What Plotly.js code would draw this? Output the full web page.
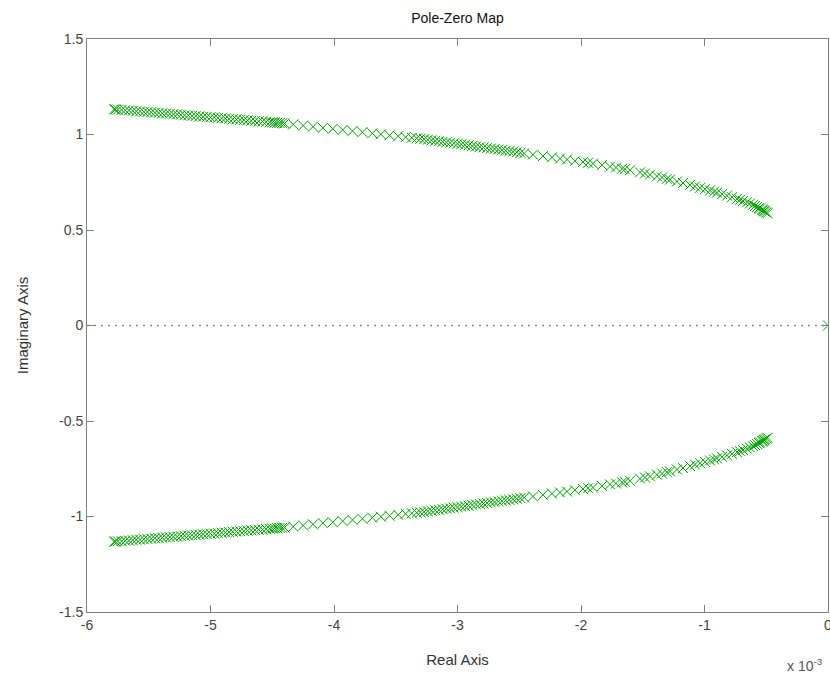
<!DOCTYPE html>
<html>
<head>
<meta charset="utf-8">
<script src="https://cdn.plot.ly/plotly-3.0.1.min.js"></script>
<style>html,body{margin:0;padding:0;background:#fff;overflow:hidden;}#chart{width:830px;height:677px;}</style>
</head>
<body>
<div id="chart"></div>
<script>
// Real parts in units of 1e-3, imaginary parts
const upperReal = [
 -5.78,-5.77,-5.75,-5.72,-5.69,-5.66,-5.63,-5.60,-5.57,-5.54,-5.51,-5.48,-5.45,-5.42,-5.39,-5.36,-5.33,-5.30,-5.27,-5.24,
 -5.21,-5.18,-5.15,-5.12,-5.09,-5.06,-5.03,-5.00,-4.97,-4.94,-4.91,-4.88,-4.85,-4.82,-4.79,-4.76,-4.73,-4.70,-4.67,-4.64,
 -4.61,-4.58,-4.55,-4.52,-4.50,-4.48,-4.46,-4.44,-4.42,-4.40,
 -4.33,-4.25,-4.17,-4.09,-4.01,-3.93,-3.85,-3.77,-3.69,-3.62,-3.55,-3.48,-3.42,-3.37,-3.33,
 -3.30,-3.27,-3.24,-3.21,-3.18,-3.15,-3.12,-3.09,-3.06,-3.03,-3.00,-2.97,-2.94,-2.91,-2.88,-2.85,-2.82,-2.79,-2.76,-2.73,
 -2.70,-2.67,-2.64,-2.61,-2.58,-2.55,-2.52,-2.49,-2.46,
 -2.389,-2.308,-2.235,-2.170,-2.113,-2.049,-1.984,-1.943,-1.903,-1.830,-1.765,-1.717,-1.668,-1.644,-1.603,-1.522,-1.482,
 -1.441,-1.385,-1.344,-1.304,-1.279,-1.223,-1.174,-1.117,-1.077,-1.036,-0.996,-0.955,-0.923,-0.899,-0.858,-0.818,-0.777,
 -0.737,-0.713,-0.688,-0.656,-0.632,-0.607,-0.591,-0.575,-0.559,-0.551,-0.534,-0.526,-0.518,-0.510,-0.500,-0.490
];
const upperImag = [
 1.132,1.131,1.130,1.129,1.127,1.126,1.124,1.122,1.121,1.119,1.118,1.116,1.114,1.113,1.111,1.110,1.108,1.106,1.105,1.103,
 1.101,1.100,1.098,1.097,1.095,1.093,1.092,1.090,1.089,1.087,1.085,1.084,1.082,1.080,1.079,1.077,1.076,1.074,1.072,1.071,
 1.069,1.068,1.066,1.064,1.063,1.062,1.061,1.060,1.059,1.058,
 1.053,1.047,1.041,1.035,1.030,1.024,1.018,1.012,1.006,1.001,0.996,0.991,0.986,0.983,0.980,
 0.978,0.976,0.973,0.970,0.967,0.965,0.962,0.959,0.957,0.954,0.951,0.948,0.946,0.943,0.940,0.937,0.935,0.932,0.929,0.926,
 0.924,0.921,0.918,0.915,0.913,0.910,0.907,0.904,0.901,
 0.895,0.887,0.880,0.874,0.869,0.862,0.856,0.852,0.848,0.840,0.832,0.827,0.821,0.818,0.813,0.802,0.796,
 0.790,0.781,0.775,0.768,0.764,0.754,0.746,0.736,0.728,0.721,0.714,0.707,0.701,0.696,0.688,0.680,0.672,
 0.663,0.658,0.652,0.645,0.639,0.632,0.626,0.620,0.615,0.612,0.607,0.604,0.600,0.597,0.592,0.588
];
const lowerReal = upperReal.slice();
const lowerImag = [
 -1.132,-1.131,-1.130,-1.129,-1.127,-1.126,-1.124,-1.122,-1.121,-1.119,-1.118,-1.116,-1.114,-1.113,-1.111,-1.110,-1.108,-1.106,-1.105,-1.103,
 -1.101,-1.100,-1.098,-1.097,-1.095,-1.093,-1.092,-1.090,-1.089,-1.087,-1.085,-1.084,-1.082,-1.080,-1.079,-1.077,-1.076,-1.074,-1.072,-1.071,
 -1.069,-1.068,-1.066,-1.064,-1.063,-1.062,-1.061,-1.060,-1.059,-1.058,
 -1.053,-1.047,-1.041,-1.035,-1.030,-1.024,-1.018,-1.012,-1.006,-1.001,-0.996,-0.991,-0.986,-0.983,-0.980,
 -0.978,-0.976,-0.973,-0.970,-0.967,-0.965,-0.962,-0.959,-0.957,-0.954,-0.951,-0.948,-0.946,-0.943,-0.940,-0.937,-0.935,-0.932,-0.929,-0.926,
 -0.924,-0.921,-0.918,-0.915,-0.913,-0.910,-0.907,-0.904,-0.901,
 -0.895,-0.887,-0.880,-0.874,-0.869,-0.862,-0.856,-0.852,-0.848,-0.840,-0.832,-0.827,-0.821,-0.818,-0.813,-0.802,-0.796,
 -0.790,-0.781,-0.775,-0.768,-0.764,-0.754,-0.746,-0.736,-0.728,-0.721,-0.714,-0.707,-0.701,-0.696,-0.688,-0.680,-0.672,
 -0.663,-0.658,-0.652,-0.645,-0.639,-0.632,-0.626,-0.620,-0.615,-0.612,-0.607,-0.604,-0.600,-0.597,-0.592,-0.588
];
const originReal = [0];
const originImag = [0];

const xTickVals = [-6,-5,-4,-3,-2,-1,0];
const xTickText = ['-6','-5','-4','-3','-2','-1','0'];
const yTickVals = [-1.5,-1,-0.5,0,0.5,1,1.5];
const yTickText = ['-1.5','-1','-0.5','0','0.5','1','1.5'];

const green = 'rgb(0,160,0)';
const markerStyle = {symbol:'x-thin-open', size:10, color:green, line:{color:green, width:1}};

const traces = [
  {x:[-6,0], y:[0,0], mode:'lines', line:{color:'#8c8c8c', width:1.5, dash:'2px,5px'}, hoverinfo:'skip'},
  {x:upperReal, y:upperImag, mode:'markers', marker:markerStyle},
  {x:lowerReal, y:lowerImag, mode:'markers', marker:markerStyle},
  {x:originReal, y:originImag, mode:'markers', marker:markerStyle}
];

const fontFam = '"Liberation Sans", Arial, sans-serif';
const layout = {
  width:830, height:677,
  margin:{l:87, r:2, t:39, b:65, pad:0},
  paper_bgcolor:'#fff', plot_bgcolor:'#fff',
  showlegend:false,
  font:{family:fontFam, size:14, color:'#444'},
  title:{text:'Pole-Zero Map', font:{family:fontFam, size:14, color:'#111'}, x:0.5512, xanchor:'center', y:0.974, yanchor:'middle'},
  xaxis:{range:[-6,0], tickvals:xTickVals, ticktext:xTickText, ticks:'inside', ticklen:7, tickcolor:'#808080',
    showline:true, linecolor:'#808080', linewidth:1, mirror:'allticks', showgrid:false, zeroline:false,
    ticklabeloverflow:'allow',
    tickfont:{family:fontFam, size:14, color:'#444'},
    title:{text:'Real Axis', font:{family:fontFam, size:15, color:'#333'}, standoff:22}},
  yaxis:{range:[-1.5,1.5], tickvals:yTickVals, ticktext:yTickText, ticks:'inside', ticklen:7, tickcolor:'#808080',
    showline:true, linecolor:'#808080', linewidth:1, mirror:'allticks', showgrid:false, zeroline:false,
    tickfont:{family:fontFam, size:14, color:'#444'},
    title:{text:'Imaginary Axis', font:{family:fontFam, size:15, color:'#333'}, standoff:26}},
  annotations:[
    {text:'x 10<sup>-3</sup>', xref:'paper', yref:'paper', x:0.942, y:-0.0925, xanchor:'left', yanchor:'middle',
     showarrow:false, font:{family:fontFam, size:14, color:'#555'}}
  ]
};

Plotly.newPlot('chart', traces, layout, {displayModeBar:false, staticPlot:true});
</script>
</body>
</html>
